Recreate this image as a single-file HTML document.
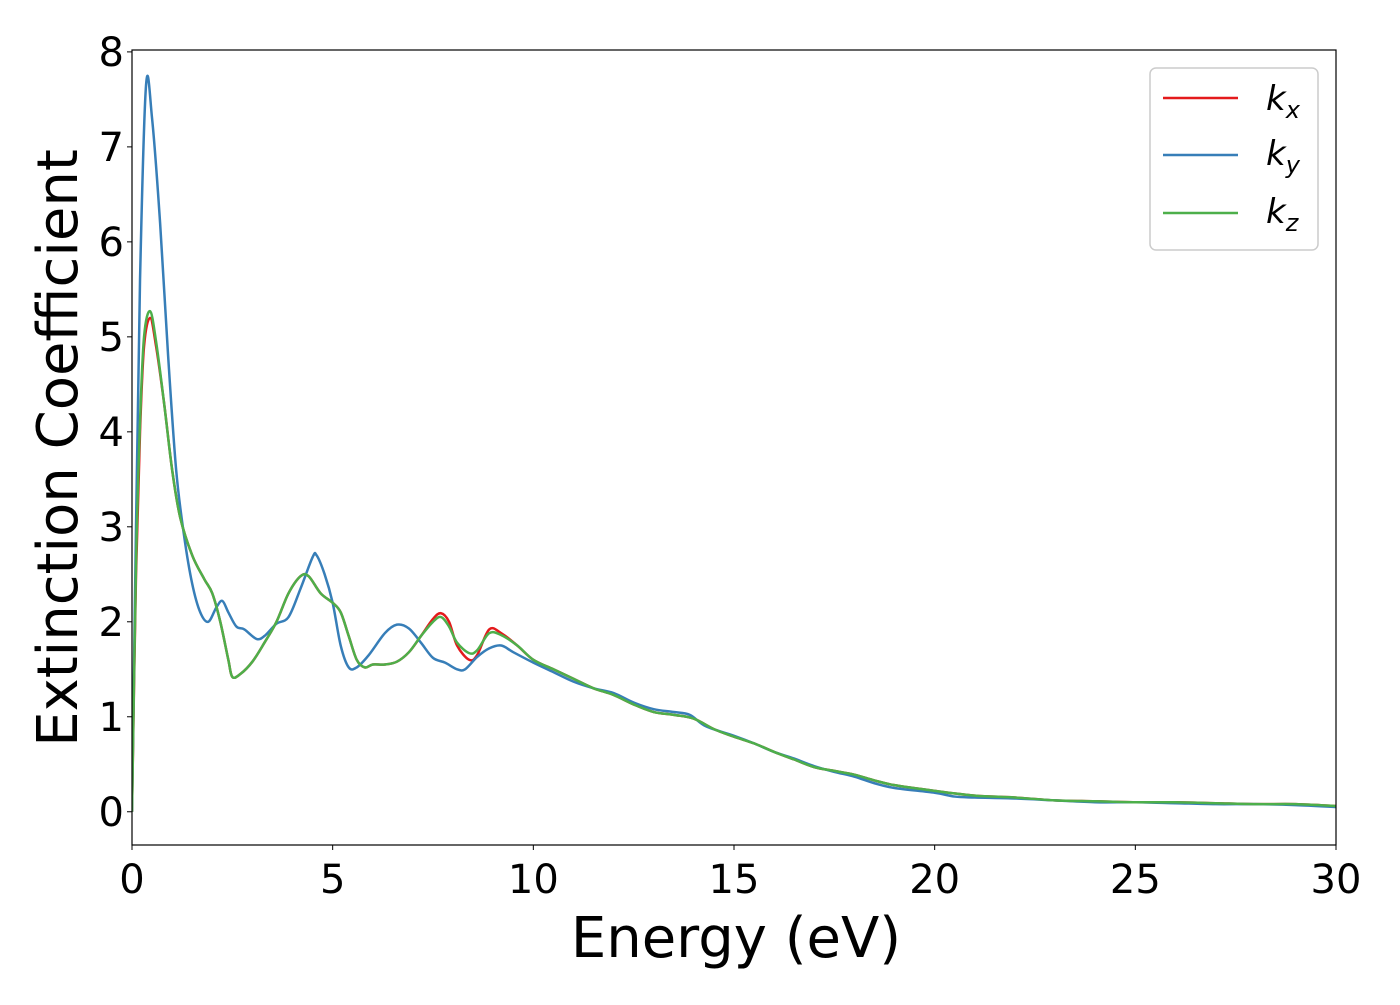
<!DOCTYPE html>
<html><head><meta charset="utf-8"><style>
body{margin:0;background:#fff}
svg text{font-family:"DejaVu Sans","Liberation Sans",sans-serif;fill:#000}
</style></head><body>
<svg id="chart" width="1400" height="1000">
<g id="plot"></g>
<g id="axes"></g>
<text x="736" y="957" font-size="56" text-anchor="middle">Energy (eV)</text>
<text transform="translate(77,448) rotate(-90)" font-size="56" text-anchor="middle">Extinction Coefficient</text>
<g>
<rect x="1150" y="68" width="168" height="182" rx="6" fill="#fff" stroke="#ccc" stroke-width="1.5"/>
<line x1="1163" x2="1238" y1="98" y2="98" stroke="#e41a1c" stroke-width="2.5"/>
<text x="1266" y="110" font-size="34" font-style="italic">k<tspan font-size="24" dy="8">x</tspan></text>
<line x1="1163" x2="1238" y1="155" y2="155" stroke="#377eb8" stroke-width="2.5"/>
<text x="1266" y="165" font-size="34" font-style="italic">k<tspan font-size="24" dy="8">y</tspan></text>
<line x1="1163" x2="1238" y1="213" y2="213" stroke="#4daf4a" stroke-width="2.5"/>
<text x="1266" y="223" font-size="34" font-style="italic">k<tspan font-size="24" dy="8">z</tspan></text>
</g>
</svg>
<script>
const xTicks=[0,5,10,15,20,25,30];
const yTicks=[0,1,2,3,4,5,6,7,8];
const energyX=[0,0.1,0.2,0.3,0.45,0.6,0.8,1.0,1.2,1.5,1.8,2.0,2.2,2.4,2.5,2.7,3.0,3.3,3.6,3.9,4.2,4.4,4.7,5.0,5.2,5.4,5.6,5.8,6.0,6.3,6.6,6.9,7.2,7.5,7.7,7.9,8.1,8.4,8.6,8.9,9.2,9.6,10,10.5,11,11.5,12,12.5,13,13.5,14,14.5,15,15.5,16,16.5,17,17.5,18,18.5,19,20,21,22,23,24,25,26,27,28,29,30];
const kx=[0,2.5,4.0,4.9,5.2,4.9,4.3,3.6,3.1,2.7,2.45,2.3,2.0,1.6,1.42,1.45,1.58,1.78,2.0,2.3,2.48,2.48,2.3,2.2,2.1,1.85,1.6,1.52,1.55,1.55,1.58,1.68,1.85,2.03,2.09,2.0,1.75,1.6,1.65,1.92,1.88,1.75,1.6,1.5,1.4,1.3,1.23,1.13,1.05,1.02,0.98,0.87,0.79,0.72,0.63,0.55,0.47,0.43,0.39,0.33,0.28,0.22,0.17,0.15,0.12,0.11,0.1,0.1,0.09,0.08,0.08,0.06];
const kz=[0,2.6,4.1,5.0,5.27,4.95,4.3,3.6,3.1,2.7,2.45,2.3,2.0,1.6,1.42,1.45,1.58,1.78,2.0,2.3,2.48,2.48,2.3,2.2,2.1,1.85,1.6,1.52,1.55,1.55,1.58,1.68,1.85,2.0,2.05,1.95,1.78,1.67,1.7,1.88,1.86,1.75,1.6,1.5,1.4,1.3,1.23,1.13,1.05,1.02,0.98,0.87,0.79,0.72,0.63,0.55,0.47,0.43,0.39,0.33,0.28,0.22,0.17,0.15,0.12,0.11,0.1,0.1,0.09,0.08,0.08,0.06];
const energyY=[0,0.1,0.2,0.35,0.5,0.7,0.9,1.1,1.3,1.5,1.7,1.9,2.1,2.25,2.4,2.6,2.8,3.1,3.3,3.6,3.9,4.2,4.5,4.6,4.8,5.0,5.2,5.4,5.6,5.9,6.3,6.6,6.9,7.2,7.5,7.8,8.1,8.3,8.6,8.9,9.2,9.5,10,10.5,11,11.5,12,12.5,13,13.5,13.9,14.3,15,15.5,16,16.5,17,17.5,18,18.5,19,20,20.5,21,22,23,24,25,26,27,28,29,30];
const ky=[0,3,5.6,7.65,7.3,6.2,4.8,3.6,2.9,2.4,2.1,2.0,2.15,2.22,2.1,1.95,1.92,1.82,1.85,1.98,2.05,2.35,2.68,2.7,2.5,2.2,1.75,1.52,1.52,1.65,1.88,1.97,1.93,1.78,1.62,1.57,1.5,1.5,1.63,1.72,1.75,1.68,1.57,1.47,1.37,1.3,1.25,1.15,1.08,1.05,1.02,0.9,0.8,0.72,0.63,0.56,0.48,0.42,0.37,0.3,0.25,0.2,0.16,0.15,0.14,0.12,0.1,0.1,0.09,0.08,0.08,0.07,0.05];
const L=132,R=1336,T=50,B=845,yMin=-0.35,yMax=8.02;
const sx=v=>L+(v-0)/(30-0)*(R-L);
const sy=v=>B-(v-yMin)/(yMax-yMin)*(B-T);
const NS='http://www.w3.org/2000/svg';
const plot=document.getElementById('plot'),axes=document.getElementById('axes');
function pathFor(xs,ys){
 const p=xs.map((x,i)=>[sx(x),sy(ys[i])]);
 let d='M'+p[0][0]+','+p[0][1];
 for(let i=0;i<p.length-1;i++){
  const p0=p[i-1]||p[i],p1=p[i],p2=p[i+1],p3=p[i+2]||p2;
  const c1=[p1[0]+(p2[0]-p0[0])/6,p1[1]+(p2[1]-p0[1])/6];
  const c2=[p2[0]-(p3[0]-p1[0])/6,p2[1]-(p3[1]-p1[1])/6];
  d+=`C${c1[0]},${c1[1]} ${c2[0]},${c2[1]} ${p2[0]},${p2[1]}`;
 }
 return d;
}
const clip=document.createElementNS(NS,'clipPath');clip.id='cp';
const cr=document.createElementNS(NS,'rect');cr.setAttribute('x',L);cr.setAttribute('y',T);cr.setAttribute('width',R-L);cr.setAttribute('height',B-T);
clip.appendChild(cr);document.getElementById('chart').appendChild(clip);
plot.setAttribute('clip-path','url(#cp)');
[[energyX,kx,'#e41a1c','series-kx'],[energyY,ky,'#377eb8','series-ky'],[energyX,kz,'#4daf4a','series-kz']].forEach(s=>{
 const p=document.createElementNS(NS,'path');
 p.setAttribute('d',pathFor(s[0],s[1]));
 p.setAttribute('fill','none');p.setAttribute('stroke',s[2]);p.setAttribute('stroke-width','2.5');
 
 
 plot.appendChild(p);
});
const fr=document.createElementNS(NS,'rect');
fr.setAttribute('x',L);fr.setAttribute('y',T);fr.setAttribute('width',R-L);fr.setAttribute('height',B-T);
fr.setAttribute('fill','none');fr.setAttribute('stroke','#000');fr.setAttribute('stroke-width','1.2');


axes.appendChild(fr);
xTicks.forEach(t=>{
 const l=document.createElementNS(NS,'line');
 l.setAttribute('x1',sx(t));l.setAttribute('x2',sx(t));l.setAttribute('y1',B);l.setAttribute('y2',B+5);l.setAttribute('stroke','#000');
 
 
 axes.appendChild(l);
 const tx=document.createElementNS(NS,'text');
 tx.setAttribute('x',sx(t));tx.setAttribute('y',B+48);tx.setAttribute('font-size','40');tx.setAttribute('text-anchor','middle');
 tx.textContent=t;
 
 
 axes.appendChild(tx);
});
yTicks.forEach(t=>{
 const l=document.createElementNS(NS,'line');
 l.setAttribute('x1',L-5);l.setAttribute('x2',L);l.setAttribute('y1',sy(t));l.setAttribute('y2',sy(t));l.setAttribute('stroke','#000');
 
 
 axes.appendChild(l);
 const tx=document.createElementNS(NS,'text');
 tx.setAttribute('x',L-8);tx.setAttribute('y',sy(t)+14);tx.setAttribute('font-size','40');tx.setAttribute('text-anchor','end');
 tx.textContent=t;
 
 
 axes.appendChild(tx);
});
</script>
</body></html>
